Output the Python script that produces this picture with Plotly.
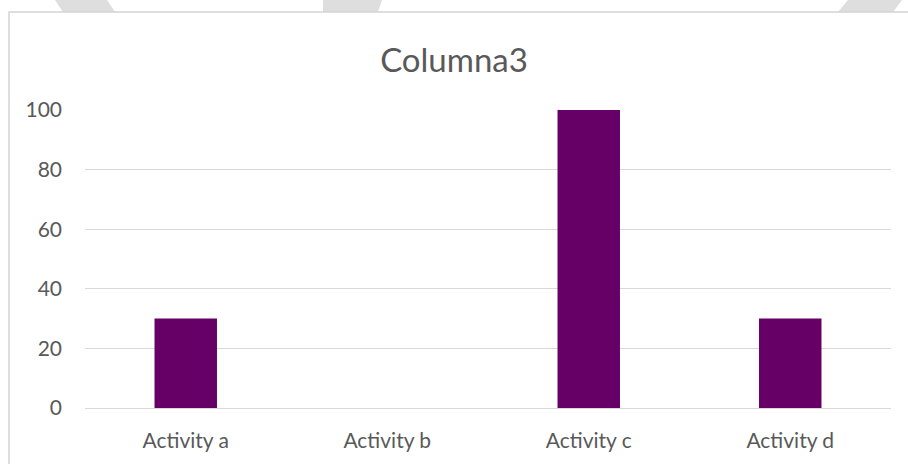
import plotly.graph_objects as go

categories = ["Activity a", "Activity b", "Activity c", "Activity d"]
values = [30, 0, 100, 30]
y_ticks = [0, 20, 40, 60, 80, 100]
title_text = "Columna3"

W, H = 908, 464
L, R, T, B = 85, 17, 110, 56
PW, PH = W - L - R, H - T - B


def px(x):
    return (x - L) / PW


def py(y):
    return (H - B - y) / PH


def poly(points):
    return "M " + " L ".join(f"{px(x):.5f},{py(y):.5f}" for x, y in points) + " Z"


shapes = []
# light gray decorative watermark pieces above the frame
for pts in [
    [(55, 0), (107, 0), (115, 12), (63, 12)],
    [(323, 0), (382, 0), (378, 12), (323, 12)],
    [(848, 0), (902, 0), (893, 12), (838, 12)],
]:
    shapes.append(dict(type="path", xref="paper", yref="paper", path=poly(pts),
                       fillcolor="#dedede", line=dict(width=0), layer="below"))
# chart frame
shapes.append(dict(type="rect", xref="paper", yref="paper",
                   x0=px(9), x1=px(915), y0=py(470), y1=py(12),
                   line=dict(color="#d4d4d4", width=1.5), fillcolor="rgba(0,0,0,0)",
                   layer="below"))

fig = go.Figure(go.Bar(x=categories, y=values, marker=dict(color="#660066", line=dict(width=0)),
                       hoverinfo="x+y"))

fig.update_layout(
    width=W, height=H,
    margin=dict(l=L, r=R, t=T, b=B, pad=0),
    paper_bgcolor="white", plot_bgcolor="white",
    bargap=0.69,
    showlegend=False,
    shapes=shapes,
    font=dict(family="Lato, Carlito, sans-serif", color="#595959", size=21),
    title=dict(text=title_text, x=0.5, xanchor="center", y=1 - 60 / H, yanchor="middle",
               font=dict(size=33, color="#595959", family="Lato, sans-serif")),
)
fig.update_xaxes(showline=True, linecolor="#d9d9d9", linewidth=1.3, ticks="", showgrid=False,
                 tickfont=dict(size=21), ticklabelstandoff=14)
fig.update_yaxes(range=[0, 100], tickvals=y_ticks, showgrid=True, gridcolor="#d9d9d9", gridwidth=1.3,
                 zeroline=False, showline=False, ticks="", tickfont=dict(size=21), ticklabelstandoff=22)

fig.write_html("out.html", config={"displayModeBar": False},
               post_script="document.body.style.margin='0';document.body.style.overflow='hidden';")
